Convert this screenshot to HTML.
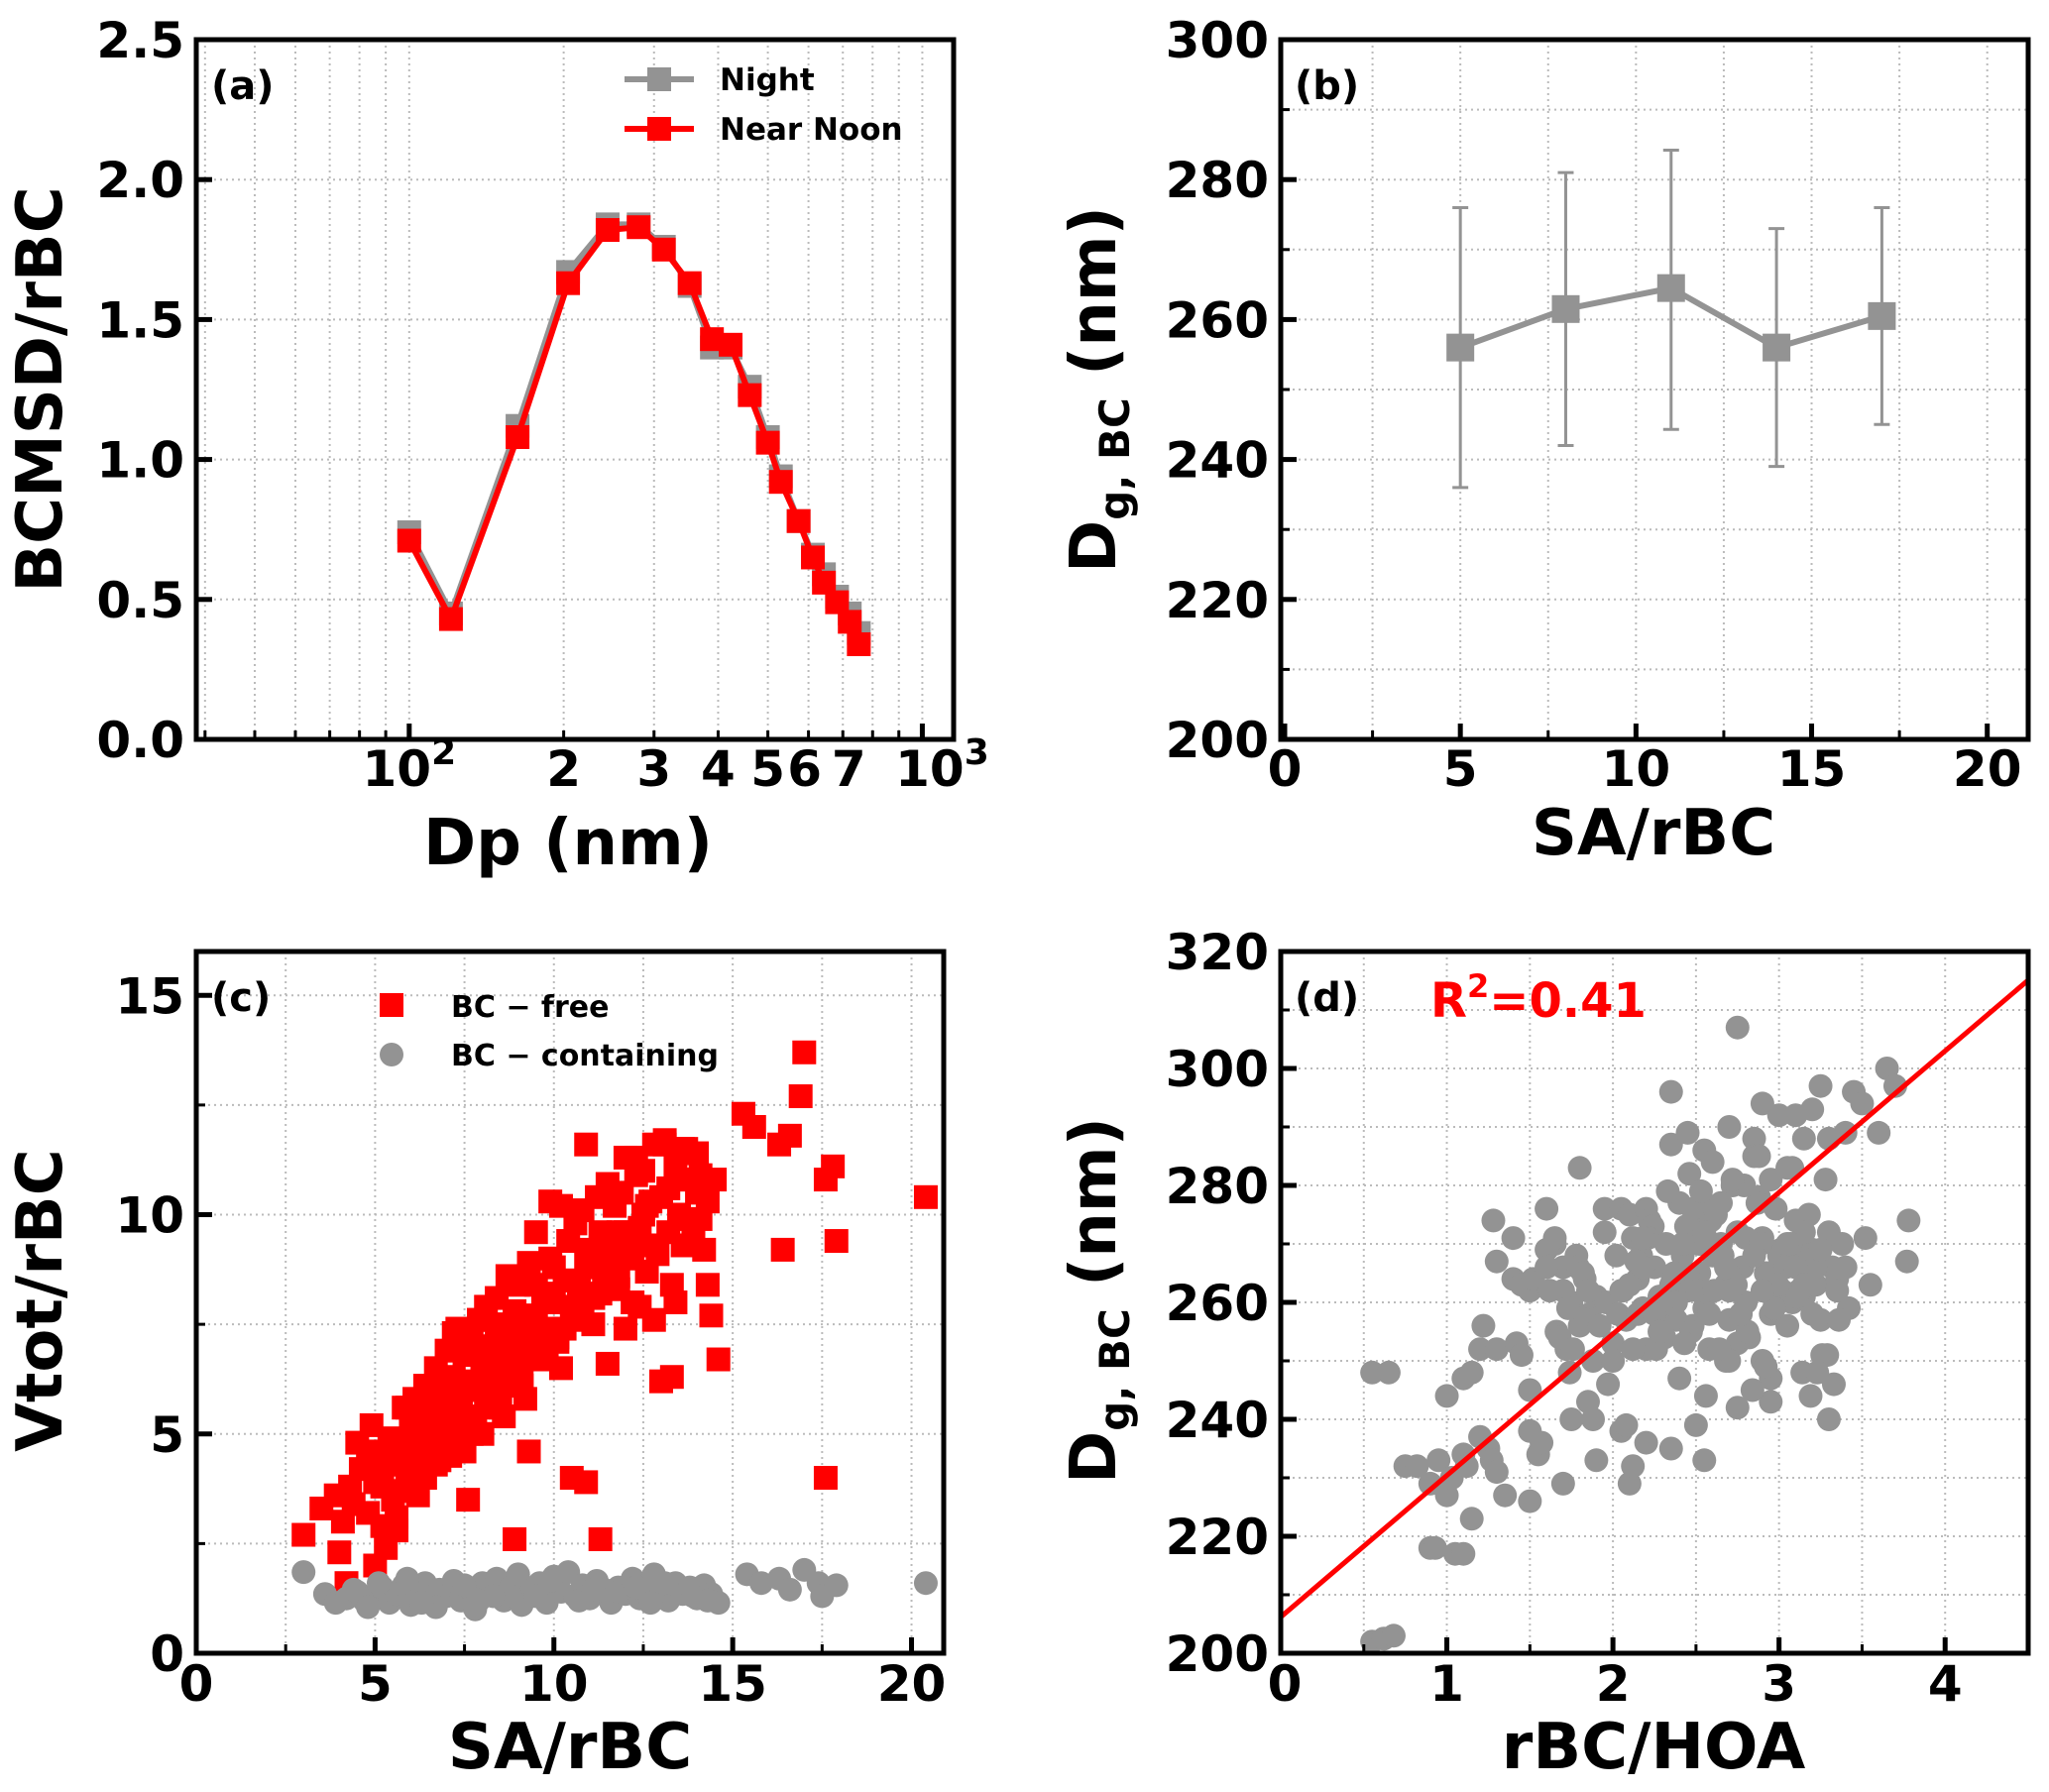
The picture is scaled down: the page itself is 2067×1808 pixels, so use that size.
<!DOCTYPE html>
<html><head><meta charset="utf-8"><style>
html,body{margin:0;padding:0;background:#fff;}
svg{display:block;font-family:"DejaVu Sans","Liberation Sans",sans-serif;font-weight:bold;}
</style></head><body>
<svg id="fig" width="2067" height="1808" viewBox="0 0 2067 1808" xmlns="http://www.w3.org/2000/svg"></svg>
<script>
// ---------- Panel (a) data ----------
const aDp = [100,120.6,162.6,204,243.6,280,313.5,352,389,423,461,500,530,574,612,643,682,722,752];
const aNoon = [0.71,0.43,1.08,1.63,1.82,1.83,1.75,1.63,1.43,1.41,1.23,1.06,0.92,0.78,0.65,0.56,0.49,0.42,0.34];
const aNight = [0.74,0.45,1.12,1.67,1.84,1.84,1.76,1.62,1.40,1.40,1.26,1.08,0.94,0.78,0.66,0.59,0.51,0.45,0.38];
const aYTicks = ["0.0","0.5","1.0","1.5","2.0","2.5"];
// ---------- Panel (b) data ----------
const bX = [5,8,11,14,17];
const bY = [256,261.5,264.5,256,260.5];
const bLo = [236,242,244.3,239,245];
const bHi = [276,281,284.2,273,276];
const bXTicks = ["0","5","10","15","20"];
const bYTicks = ["200","220","240","260","280","300"];
// ---------- Panel (c) data ----------
const cRedX = [3.0,4.2,5.0,5.3,5.6,7.6,8.9,9.3,10.5,10.9,11.3,13.0,13.3,14.6,14.4,12.4,13.9,14.1,12.3,13.1,13.6,14.0,15.3,15.6,16.3,16.6,16.9,17.0,17.6,17.8,20.4,17.9,16.4,17.6,
3.5,3.9,4.1,4.3,4.5,4.6,4.8,4.9,5.1,5.2,5.4,5.5,5.7,5.8,5.9,6.0,6.1,6.2,6.3,6.4,6.5,6.6,6.7,6.8,6.9,7.0,7.1,7.2,7.3,7.4,7.5,7.6,7.7,7.8,7.9,8.0,8.1,8.2,8.3,8.4,8.5,8.6,8.7,8.8,8.9,9.0,9.1,9.2,9.3,9.4,9.5,9.6,9.7,9.8,9.9,10.0,10.1,10.2,10.3,10.4,10.5,10.6,10.7,10.8,10.9,11.0,11.1,11.2,11.3,11.4,11.5,11.6,11.7,11.8,11.9,12.0,12.1,12.2,12.3,12.4,12.5,12.6,12.7,12.8,12.9,13.1,13.2,13.3,13.4,13.5,13.6,13.7,13.8,13.9,14.0,14.1,14.2,14.3,
5.0,5.5,6.0,6.5,7.0,7.5,8.0,8.5,9.0,9.5,10.0,10.5,11.0,11.5,12.0,12.5,13.0,13.5,6.2,6.8,7.3,7.8,8.3,8.8,9.3,9.8,10.3,10.8,11.3,11.8,12.2,12.7,13.2,13.7,14.2,4.4,5.2,5.8,6.4,7.1,7.7,8.2,8.7,9.1,9.6,10.1,10.6,11.1,4.0,4.8,5.6,6.6,7.4,8.1,8.9,9.7,
7.2,7.9,8.4,9.5,9.9,6.7,7.5,8.0,8.6,9.2,10.2,11.5,12.0,12.8,13.4,14.3,14.5,11.8,12.6,10.9,5.9,6.9,7.7,8.5];
const cRedY = [2.7,1.6,2.0,2.4,2.8,3.5,2.6,4.6,4.0,3.9,2.6,6.2,6.3,6.7,7.7,7.9,9.5,10.9,11.3,11.6,11.5,11.4,12.3,12.0,11.6,11.8,12.7,13.7,10.8,11.1,10.4,9.4,9.2,4.0,
3.3,3.6,3.0,3.8,4.8,4.2,4.6,5.2,4.4,3.8,4.9,3.5,4.7,5.6,4.2,5.1,5.8,4.4,5.4,6.1,4.8,5.7,6.5,5.1,6.0,6.9,5.5,6.3,7.4,5.9,6.8,5.3,7.1,6.2,7.6,6.6,7.9,5.8,7.0,8.1,6.4,7.5,8.6,6.9,7.8,8.4,6.1,7.3,8.9,7.7,9.6,6.8,8.2,7.4,9.0,8.8,7.2,10.2,8.5,9.4,7.9,9.8,8.3,10.1,8.9,9.2,7.5,10.4,9.6,8.6,10.7,9.0,10.2,8.3,10.5,11.3,9.4,8.0,10.9,9.7,11.0,8.7,10.3,11.6,9.1,11.7,10.6,8.4,11.1,10.0,9.3,11.5,10.8,9.8,10.5,9.9,9.2,10.3,
3.9,4.3,4.6,5.2,5.6,6.0,6.6,6.9,7.2,7.7,8.0,8.5,8.8,9.3,9.6,10.0,10.4,10.8,3.6,4.4,5.0,5.4,6.2,6.4,6.8,7.0,7.4,7.9,8.2,8.6,9.0,9.3,9.6,9.9,10.6,3.4,2.9,3.7,4.0,4.5,5.0,5.6,6.1,6.3,6.7,7.1,7.6,8.1,2.3,3.2,3.1,4.9,5.5,5.9,6.5,6.9,
7.3,7.6,7.4,8.4,10.3,4.3,4.6,5.0,5.4,5.8,6.5,6.6,7.4,7.6,8.0,8.4,10.8,9.6,10.2,11.6,5.6,4.8,5.3,5.6];
const cGreyX = [3.0,3.6,3.9,4.2,4.5,4.7,5.0,5.2,5.4,5.6,5.8,6.0,6.2,6.4,6.6,6.8,7.0,7.2,7.4,7.6,7.8,8.0,8.2,8.4,8.6,8.8,9.0,9.2,9.4,9.6,9.8,10.0,10.2,10.4,10.6,10.8,11.0,11.2,11.4,11.6,11.8,12.0,12.2,12.4,12.6,12.8,13.0,13.2,13.4,13.6,13.8,14.0,14.2,14.4,14.6,4.4,5.1,5.9,6.7,7.5,8.3,9.1,9.9,10.7,11.5,12.3,13.1,13.9,4.8,6.3,7.9,9.5,11.1,12.7,14.3,15.4,15.8,16.3,16.6,17.0,17.4,17.5,17.9,20.4];
const cGreyY = [1.85,1.35,1.15,1.25,1.4,1.2,1.3,1.5,1.15,1.35,1.55,1.1,1.4,1.6,1.25,1.45,1.3,1.65,1.2,1.5,1.0,1.6,1.35,1.7,1.2,1.5,1.8,1.25,1.45,1.6,1.15,1.75,1.4,1.85,1.3,1.55,1.25,1.65,1.45,1.15,1.5,1.35,1.7,1.25,1.55,1.8,1.4,1.2,1.6,1.35,1.5,1.25,1.55,1.35,1.15,1.45,1.6,1.7,1.05,1.55,1.3,1.1,1.65,1.2,1.4,1.5,1.6,1.3,1.05,1.15,1.2,1.3,1.45,1.15,1.2,1.8,1.6,1.7,1.45,1.9,1.6,1.3,1.55,1.6];
const cXTicks = ["0","5","10","15","20"];
const cYTicks = ["0","5","10","15"];
// ---------- Panel (d) data ----------
const dX = [0.55,0.62,0.68,0.55,0.65,0.75,0.82,0.90,0.95,1.00,1.03,0.90,0.93,1.05,1.10,1.15,1.10,1.12,1.20,1.25,1.27,1.30,1.35,1.50,1.55,1.57,1.70,1.75,1.85,1.90,2.05,2.08,2.10,2.12,2.20,2.35,2.50,2.55,3.30,2.95,2.95,2.90,2.75,2.75,2.68,1.00,1.10,1.15,1.22,1.20,1.30,1.42,1.45,1.50,1.50,1.28,1.30,1.40,1.40,1.45,1.50,1.52,1.60,1.60,1.65,1.80,1.95,2.05,1.95,2.10,2.20,2.35,2.35,2.45,2.55,2.70,2.75,2.85,2.90,3.00,3.10,3.20,3.25,3.45,3.50,3.65,3.70,3.60,3.40,3.30,3.15,2.95,3.05,3.78,3.77,3.52,3.55,3.20,3.12,
1.62,1.66,1.70,1.72,1.75,1.78,1.80,1.83,1.86,1.88,1.65,1.70,1.74,1.79,1.84,1.90,1.68,1.76,1.82,1.92,1.96,2.00,2.02,2.05,2.08,2.12,2.15,2.18,2.20,2.22,2.25,2.28,2.30,2.32,2.35,2.38,2.40,2.42,2.45,2.48,2.50,2.52,2.55,2.58,2.60,2.62,2.65,2.68,2.70,2.72,2.75,2.78,2.80,2.82,2.85,2.88,2.90,2.92,2.95,2.98,3.00,3.02,3.05,3.08,3.10,3.12,3.15,3.18,3.20,3.22,3.25,3.28,3.30,3.32,3.35,3.38,3.40,3.42,
2.03,2.10,2.17,2.24,2.31,2.38,2.45,2.52,2.59,2.66,2.73,2.80,2.87,2.94,3.01,3.08,3.15,3.22,3.29,3.36,2.06,2.14,2.21,2.29,2.36,2.44,2.51,2.58,2.66,2.74,2.81,2.89,2.97,3.04,3.11,3.19,3.26,3.33,2.15,2.26,2.40,2.47,2.61,2.70,2.84,2.99,3.14,1.88,1.97,2.30,2.43,2.56,2.64,2.77,2.92,3.07,3.23,1.60,1.73,1.85,2.00,2.18,2.33,2.46,2.62,2.79,2.88,
2.55,2.60,2.65,2.70,2.62,2.58,2.68,2.72,2.48,2.53,2.42,2.37,2.85,2.90,3.05,3.10,3.15,3.25,3.35,2.25,2.28,2.18,2.12,1.72,1.78,1.82,1.70,1.66];
const dY = [202,202.5,203,248,248,232,232,229,233,227,230,218,218,217,217,223,234,232,237,235,233,231,227,226,234,236,229,240,243,233,238,239,229,232,236,235,239,233,240,243,247,250,242,253,250,244,247,248,256,252,252,253,251,245,238,274,267,271,264,263,262,264,276,269,270,283,276,276,272,275,276,287,296,289,286,290,307,288,294,292,292,293,297,296,294,300,297,289,289,288,288,281,283,274,267,271,263,258,262,
262,255,266,252,260,268,256,264,258,250,271,262,248,266,257,261,254,252,265,256,260,253,268,262,257,271,264,259,252,274,266,261,255,270,263,257,277,268,262,256,273,265,259,252,284,276,270,263,257,280,272,266,260,254,285,278,271,265,258,276,268,262,256,283,274,267,261,275,269,263,257,281,272,266,264,270,266,259,
258,263,268,273,254,260,265,270,274,268,264,271,277,265,269,260,272,266,251,257,262,267,271,259,264,273,262,276,268,263,255,270,259,266,261,244,251,246,258,252,247,255,262,250,245,263,248,240,246,256,253,244,252,258,249,270,248,266,259,262,250,271,
279,282,275,280,285,272,268,277,262,269,258,266,281,276,279,270,265,268,262,270,266,263,269,262,258,255,266,252];
const dSlope = 24.2, dIntercept = 206.2;
const dXTicks = ["0","1","2","3","4"];
const dYTicks = ["200","220","240","260","280","300","320"];

// ---------- helpers ----------
const NS = "http://www.w3.org/2000/svg";
const svg = document.getElementById("fig");
function el(tag, attrs, parent){
  const e = document.createElementNS(NS, tag);
  for (const k in attrs) e.setAttribute(k, attrs[k]);
  (parent||svg).appendChild(e);
  return e;
}
function txt(s, x, y, size, anchor, parent, fill){
  const t = el("text", {x:x, y:y, "font-size":size, "text-anchor":anchor||"middle", fill:fill||"#000"}, parent);
  t.textContent = s;
  return t;
}
function lin(d0,d1,r0,r1){ return v => r0 + (v-d0)/(d1-d0)*(r1-r0); }
const GREY = "#939393", RED = "#ff0000";
const TF = 50, AF = 64;

function grid(g, L, R, T, B, xs, ys){
  xs.forEach(x => { const l = el("line",{x1:x,x2:x,y1:T,y2:B,stroke:"#bbb","stroke-width":2,"stroke-dasharray":"2,4"},g);
      });
  ys.forEach(y => { const l = el("line",{x1:L,x2:R,y1:y,y2:y,stroke:"#bbb","stroke-width":2,"stroke-dasharray":"2,4"},g);
      });
}
function frame(g, L, R, T, B, xMaj, xMin, yMaj, yMin){
  xMaj.forEach(x => el("line",{x1:x,x2:x,y1:B,y2:B-16,stroke:"#000","stroke-width":5},g));
  xMin.forEach(x => el("line",{x1:x,x2:x,y1:B,y2:B-9,stroke:"#000","stroke-width":3},g));
  yMaj.forEach(y => el("line",{x1:L,x2:L+16,y1:y,y2:y,stroke:"#000","stroke-width":5},g));
  yMin.forEach(y => el("line",{x1:L,x2:L+9,y1:y,y2:y,stroke:"#000","stroke-width":3},g));
  const r = el("rect",{x:L,y:T,width:R-L,height:B-T,fill:"none",stroke:"#000","stroke-width":5},g);
   
}
function group(name){ const g = el("g",{});   return g; }

// ================= Panel (a) =================
(function(){
  const g = group("panel-a");
  const L=198,R=962,T=40,B=746;
  const lx = v => L + (Math.log10(v)-1.585)/(3.061-1.585)*(R-L);
  const y = lin(0,2.5,B,T);
  const minorX = [40,50,60,70,80,90,200,300,400,500,600,700,800,900,1000];
  grid(g,L,R,T,B,minorX.concat([100]).map(lx),[0.5,1,1.5,2].map(y));
  [[aNight,GREY,"night"],[aNoon,RED,"near-noon"]].forEach(([ser,col,nm])=>{
    const pts = aDp.map((d,i)=>lx(d)+","+y(ser[i])).join(" ");
    const pl = el("polyline",{points:pts,fill:"none",stroke:col,"stroke-width":6},g);
     
    aDp.forEach((d,i)=>{
      const r = el("rect",{x:lx(d)-12,y:y(ser[i])-12,width:24,height:24,fill:col},g);
       
    });
  });
  frame(g,L,R,T,B,[100,1000].map(lx),minorX.map(lx),[0,0.5,1,1.5,2,2.5].map(y),[]);
  aYTicks.forEach(s=>{ const t=txt(s,186,y(parseFloat(s))+18,TF,"end",g);   });
  const t1 = txt("",lx(100),793,TF,"middle",g); t1.innerHTML='10<tspan dy="-22" font-size="36">2</tspan>';
   
  const t2 = txt("",lx(1000)+20,793,TF,"middle",g); t2.innerHTML='10<tspan dy="-22" font-size="36">3</tspan>';
   
  [2,3,4,5,6,7].forEach(n=>{ const t=txt(String(n),lx(n*100)+(n===6?-4:(n===7?6:0)),793,TF,"middle",g);   });
  const xt = txt("Dp (nm)",573,872,AF,"middle",g);  
  const yt = txt("BCMSD/rBC",0,0,AF,"middle",g); yt.setAttribute("transform","translate(62,393) rotate(-90)");
   
  const pl = txt("(a)",213,100,40,"start",g);  
  const lg = group("legend"); g.appendChild(lg);
  [["Night",GREY,80],["Near Noon",RED,130]].forEach(([s,c,yy])=>{
    el("line",{x1:630,x2:700,y1:yy,y2:yy,stroke:c,"stroke-width":6},lg);
    el("rect",{x:653,y:yy-12,width:24,height:24,fill:c},lg);
    const t = txt(s,726,yy+11,31,"start",lg);  
  });
})();

// ================= Panel (b) =================
(function(){
  const g = group("panel-b");
  const L=1292,R=2046,T=40,B=746;
  const x = lin(0,21.25,1296,2049);
  const y = lin(200,300,B,T);
  grid(g,L,R,T,B,[2.5,5,7.5,10,12.5,15,17.5,20].map(x),[210,220,230,240,250,260,270,280,290].map(y));
  bX.forEach((v,i)=>{
    const e = el("g",{},g);  
    el("line",{x1:x(v),x2:x(v),y1:y(bLo[i]),y2:y(bHi[i]),stroke:GREY,"stroke-width":3},e);
    el("line",{x1:x(v)-8,x2:x(v)+8,y1:y(bLo[i]),y2:y(bLo[i]),stroke:GREY,"stroke-width":3},e);
    el("line",{x1:x(v)-8,x2:x(v)+8,y1:y(bHi[i]),y2:y(bHi[i]),stroke:GREY,"stroke-width":3},e);
  });
  const pl = el("polyline",{points:bX.map((v,i)=>x(v)+","+y(bY[i])).join(" "),fill:"none",stroke:GREY,"stroke-width":6},g);
   
  bX.forEach((v,i)=>{ const r=el("rect",{x:x(v)-14,y:y(bY[i])-14,width:28,height:28,fill:GREY},g);
      });
  frame(g,L,R,T,B,[0,5,10,15,20].map(x),[2.5,7.5,12.5,17.5].map(x),[200,220,240,260,280,300].map(y),[210,230,250,270,290].map(y));
  bXTicks.forEach(s=>{ const t=txt(s,x(+s),793,TF,"middle",g);   });
  bYTicks.forEach(s=>{ const t=txt(s,1280,y(+s)+18,TF,"end",g);   });
  const xt = txt("SA/rBC",1668,862,AF,"middle",g);  
  const yt = txt("",0,0,AF,"middle",g); yt.innerHTML='D<tspan dy="14" font-size="42">g, BC</tspan><tspan dy="-14"> (nm)</tspan>';
  yt.setAttribute("transform","translate(1125,393) rotate(-90)");
   
  const p = txt("(b)",1306,100,40,"start",g);  
})();

// ================= Panel (c) =================
(function(){
  const g = group("panel-c");
  const L=198,R=952,T=960,B=1668;
  const x = lin(0,20.9,L,R);
  const y = lin(0,16,B,T);
  grid(g,L,R,T,B,[2.5,5,7.5,10,12.5,15,17.5,20].map(x),[2.5,5,7.5,10,12.5,15].map(y));
  const nR = Math.min(cRedX.length,cRedY.length);
  for (let i=0;i<nR;i++){ const r=el("rect",{x:x(cRedX[i])-12,y:y(cRedY[i])-12,width:24,height:24,fill:RED},g);
      }
  const nG = Math.min(cGreyX.length,cGreyY.length);
  for (let i=0;i<nG;i++){ const c=el("circle",{cx:x(cGreyX[i]),cy:y(cGreyY[i]),r:12,fill:GREY},g);
      }
  frame(g,L,R,T,B,[0,5,10,15,20].map(x),[2.5,7.5,12.5,17.5].map(x),[0,5,10,15].map(y),[2.5,7.5,12.5].map(y));
  cXTicks.forEach(s=>{ const t=txt(s,x(+s),1716,TF,"middle",g);   });
  cYTicks.forEach(s=>{ const t=txt(s,186,y(+s)+18,TF,"end",g);   });
  const xt = txt("SA/rBC",575,1784,AF,"middle",g);  
  const yt = txt("Vtot/rBC",0,0,AF,"middle",g); yt.setAttribute("transform","translate(62,1312) rotate(-90)");
   
  const p = txt("(c)",213,1020,40,"start",g);  
  const lg = group("legend"); g.appendChild(lg);
  el("rect",{x:383,y:1002,width:24,height:24,fill:RED},lg);
  const t1=txt("BC \u2212 free",455,1026,30,"start",lg);  
  el("circle",{cx:395,cy:1064,r:12,fill:GREY},lg);
  const t2=txt("BC \u2212 containing",455,1075,30,"start",lg);  
})();

// ================= Panel (d) =================
(function(){
  const g = group("panel-d");
  const L=1292,R=2046,T=960,B=1668;
  const x = lin(0,4.5,L,R);
  const y = lin(200,320,B,T);
  grid(g,L,R,T,B,[0.5,1,1.5,2,2.5,3,3.5,4].map(x),[210,220,230,240,250,260,270,280,290,300,310].map(y));
  const n = Math.min(dX.length,dY.length);
  for (let i=0;i<n;i++){ const c=el("circle",{cx:x(dX[i]),cy:y(dY[i]),r:12,fill:GREY},g);
      }
  const fl = el("line",{x1:x(0),y1:y(dIntercept),x2:x(4.5),y2:y(dIntercept+dSlope*4.5),stroke:RED,"stroke-width":5},g);
   
  frame(g,L,R,T,B,[0,1,2,3,4].map(x),[0.5,1.5,2.5,3.5].map(x),[200,220,240,260,280,300,320].map(y),[210,230,250,270,290,310].map(y));
  dXTicks.forEach(s=>{ const t=txt(s,x(+s)+(s==="0"?4:0),1716,TF,"middle",g);   });
  dYTicks.forEach(s=>{ const t=txt(s,1280,y(+s)+18,TF,"end",g);   });
  const xt = txt("rBC/HOA",1668,1784,AF,"middle",g);  
  const yt = txt("",0,0,AF,"middle",g); yt.innerHTML='D<tspan dy="14" font-size="42">g, BC</tspan><tspan dy="-14"> (nm)</tspan>';
  yt.setAttribute("transform","translate(1125,1312) rotate(-90)");
   
  const p = txt("(d)",1306,1020,40,"start",g);  
  const r2 = txt("",1443,1026,48,"start",g,RED); r2.innerHTML='R<tspan dy="-20" font-size="32">2</tspan><tspan dy="20">=0.41</tspan>';
   
})();
</script>
</body></html>
